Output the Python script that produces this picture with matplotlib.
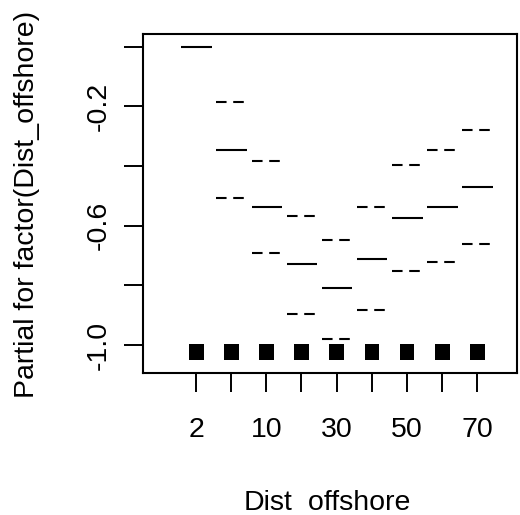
import matplotlib
matplotlib.use("Agg")
import matplotlib.pyplot as plt
from matplotlib.transforms import Bbox
import numpy as np

# ---- data ----
categories = ["2", "5", "10", "20", "30", "40", "50", "60", "70"]
x_tick_labels = ["2", "", "10", "", "30", "", "50", "", "70"]
effect = [0.0, -0.346, -0.537, -0.728, -0.809, -0.713, -0.574, -0.537, -0.472]
upper = [np.nan, -0.184, -0.383, -0.568, -0.648, -0.537, -0.398, -0.346, -0.279]
lower = [np.nan, -0.508, -0.692, -0.897, -0.979, -0.883, -0.751, -0.721, -0.663]
y_ticks = [0.0, -0.2, -0.4, -0.6, -0.8, -1.0]
y_tick_labels = ["", "-0.2", "", "-0.6", "", "-1.0"]
rug_low = -1.052
rug_high = -0.997

plt.rcParams["font.family"] = ["Liberation Sans", "DejaVu Sans"]
plt.rcParams["lines.scale_dashes"] = False

W, H = 520, 515
fig = plt.figure(figsize=(W / 100, H / 100), dpi=100)
left, right, top, bottom = 142.7, 517.0, 33.5, 373.0
ax = fig.add_axes([left / W, 1 - bottom / H, (right - left) / W, (bottom - top) / H])

pos = np.arange(1, len(categories) + 1)
x0 = pos - 0.42
x1 = pos + 0.45
lw = 1.5
for i in range(len(pos)):
    ax.plot([x0[i], x1[i]], [effect[i], effect[i]], color="black", lw=lw,
            solid_capstyle="butt")
    if not np.isnan(upper[i]):
        for v in (upper[i], lower[i]):
            ax.plot([x0[i], x1[i]], [v, v], color="black", lw=lw,
                    linestyle=(0, (7.6, 4.8)), dash_capstyle="butt")

# rug blocks
ax.bar(pos + 0.01, [rug_high - rug_low] * len(pos), bottom=rug_low, width=0.42,
       color="black", edgecolor="none")

ax.set_xlim(-0.52, 10.14)
ax.set_ylim(-1.094, 0.044)
ax.set_xticks(pos)
ax.set_xticklabels(x_tick_labels)
ax.set_yticks(y_ticks)
ax.set_yticklabels(y_tick_labels, rotation=90, va="center")

for s in ax.spines.values():
    s.set_linewidth(1.5)
    s.set_color("black")
ax.tick_params(axis="both", direction="out", length=13.5, width=1.4,
               colors="black", labelsize=20.5)
ax.tick_params(axis="x", pad=18)
ax.tick_params(axis="y", pad=9)

fig.text(27 / W, 1 - 204 / H, "Partial for factor(Dist_offshore)",
         rotation=90, ha="center", va="center", fontsize=20.5)
xl = fig.text(327 / W, 1 - 509.5 / H, "Dist_offshore", ha="center",
              va="baseline", fontsize=20.5)
# the reference image is cut just below the baseline of this label
xl.set_clip_box(Bbox([[0, H - 510.5], [W, H]]))
xl.set_clip_on(True)

fig.savefig("out.png", dpi=100)
